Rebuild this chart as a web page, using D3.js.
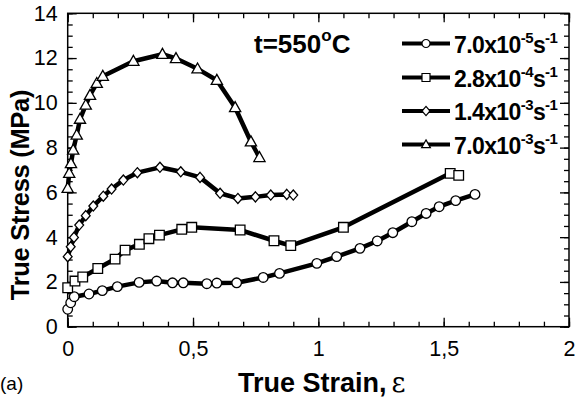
<!DOCTYPE html>
<html>
<head>
<meta charset="utf-8">
<script src="https://cdn.jsdelivr.net/npm/d3@7"></script>
<style>
  body { margin: 0; background: #fff; }
  svg { display: block; font-family: "Liberation Sans", Arial, sans-serif; }
</style>
</head>
<body>
<svg id="chart" width="575" height="402"></svg>
<script>
// strain / stress readings for each strain rate
const strain1 = [0, 0.012, 0.026, 0.085, 0.138, 0.198, 0.285, 0.355, 0.418, 0.461, 0.555, 0.595, 0.674, 0.78, 0.845, 0.994, 1.073, 1.166, 1.235, 1.297, 1.373, 1.43, 1.482, 1.548, 1.625];
const stress1 = [0.78, 1.07, 1.34, 1.46, 1.61, 1.79, 1.98, 2.04, 1.96, 1.96, 1.92, 1.95, 1.96, 2.2, 2.38, 2.83, 3.13, 3.5, 3.83, 4.2, 4.69, 5.06, 5.36, 5.63, 5.91];

const strain2 = [0, 0.029, 0.06, 0.12, 0.189, 0.229, 0.286, 0.324, 0.366, 0.455, 0.495, 0.688, 0.823, 0.89, 1.1, 1.526, 1.56];
const stress2 = [1.74, 2.04, 2.22, 2.6, 3.02, 3.42, 3.68, 3.93, 4.09, 4.35, 4.44, 4.32, 3.84, 3.62, 4.44, 6.85, 6.76];

const strain3 = [0, 0.012, 0.025, 0.046, 0.072, 0.102, 0.142, 0.175, 0.222, 0.278, 0.368, 0.451, 0.528, 0.608, 0.679, 0.749, 0.81, 0.874, 0.9];
const stress3 = [3.13, 3.57, 3.99, 4.54, 4.96, 5.39, 5.83, 6.15, 6.55, 6.88, 7.12, 6.92, 6.67, 5.96, 5.73, 5.8, 5.88, 5.91, 5.88];

const strain4 = [0, 0.006, 0.013, 0.022, 0.036, 0.049, 0.072, 0.089, 0.116, 0.14, 0.262, 0.378, 0.432, 0.518, 0.595, 0.668, 0.731, 0.765];
const stress4 = [6.18, 6.85, 7.29, 7.89, 8.56, 9.27, 9.9, 10.34, 10.87, 11.19, 11.86, 12.17, 11.98, 11.52, 11.01, 9.79, 8.26, 7.56];

const rateMant = ["7.0", "2.8", "1.4", "7.0"];
const rateExp = ["-5", "-4", "-3", "-3"];
const markers = ["circle", "square", "diamond", "triangle"];

const xTicks = [0, 0.5, 1, 1.5, 2];
const xTickLabels = ["0", "0,5", "1", "1,5", "2"];
const yTicks = [0, 2, 4, 6, 8, 10, 12, 14];

const series = [
  strain1.map((x, i) => ({ x, y: stress1[i] })),
  strain2.map((x, i) => ({ x, y: stress2[i] })),
  strain3.map((x, i) => ({ x, y: stress3[i] })),
  strain4.map((x, i) => ({ x, y: stress4[i] }))
];

const svg = d3.select("#chart");
const pLeft = 67.7, pRight = 569, pTop = 13.3, pBottom = 326.7;

const x = d3.scaleLinear().domain([0, 2]).range([pLeft, pRight]);
const y = d3.scaleLinear().domain([0, 14]).range([pBottom, pTop]);

// marker shape paths
function markerPath(type, s) {
  if (type === "circle") return d3.symbol(d3.symbolCircle, Math.PI * s * s)();
  if (type === "square") return `M${-s},${-s}H${s}V${s}H${-s}Z`;
  if (type === "diamond") return `M0,${-s * 1.15}L${s * 1.0},0L0,${s * 1.15}L${-s * 1.0},0Z`;
  return `M0,${-s * 1.15}L${s * 1.1},${s * 0.8}L${-s * 1.1},${s * 0.8}Z`;
}
const markerSize = [4.8, 4.8, 4.4, 5.1];

// axes: ticks inward on all four sides
const xMinor = d3.range(0, 2.0001, 0.1);
const yMinor = d3.range(0, 14.0001, 0.5);
const tickFont = "Liberation Sans, Arial, sans-serif";

svg.append("g").attr("transform", `translate(0,${pBottom})`)
  .call(d3.axisBottom(x).tickValues(xMinor).tickSize(-5).tickFormat(""));
svg.append("g").attr("transform", `translate(0,${pBottom})`)
  .call(d3.axisBottom(x).tickValues(xTicks).tickSize(-9).tickPadding(14).tickFormat((d, i) => xTickLabels[i]))
  .call(g => g.selectAll("text").attr("font-size", 21.5).attr("fill", "#000").attr("font-family", tickFont));
svg.append("g").attr("transform", `translate(0,${pTop})`)
  .call(d3.axisTop(x).tickValues(xMinor).tickSize(-5).tickFormat(""));
svg.append("g").attr("transform", `translate(0,${pTop})`)
  .call(d3.axisTop(x).tickValues(xTicks).tickSize(-9).tickFormat(""));

svg.append("g").attr("transform", `translate(${pLeft},0)`)
  .call(d3.axisLeft(y).tickValues(yMinor).tickSize(-5).tickFormat(""));
svg.append("g").attr("transform", `translate(${pLeft},0)`)
  .call(d3.axisLeft(y).tickValues(yTicks).tickSize(-9).tickPadding(10))
  .call(g => g.selectAll("text").attr("font-size", 21.5).attr("fill", "#000").attr("font-family", tickFont));
svg.append("g").attr("transform", `translate(${pRight},0)`)
  .call(d3.axisRight(y).tickValues(yMinor).tickSize(-5).tickFormat(""));
svg.append("g").attr("transform", `translate(${pRight},0)`)
  .call(d3.axisRight(y).tickValues(yTicks).tickSize(-9).tickFormat(""));

svg.selectAll(".domain").remove();
svg.selectAll(".tick line").attr("stroke", "#000").attr("stroke-width", 1.3);

svg.append("rect")
  .attr("x", pLeft).attr("y", pTop)
  .attr("width", pRight - pLeft).attr("height", pBottom - pTop)
  .attr("fill", "none").attr("stroke", "#000").attr("stroke-width", 1.5);

// data lines and markers
const line = d3.line().x(d => x(d.x)).y(d => y(d.y));
series.forEach((data, k) => {
  svg.append("path").datum(data)
    .attr("d", line)
    .attr("fill", "none").attr("stroke", "#000")
    .attr("stroke-width", 4.5).attr("stroke-linejoin", "round");
  svg.append("g").selectAll("path").data(data).join("path")
    .attr("transform", d => `translate(${x(d.x)},${y(d.y)})`)
    .attr("d", markerPath(markers[k], markerSize[k]))
    .attr("fill", "#fff").attr("stroke", "#000").attr("stroke-width", 1.3);
});

// legend
const legY = [43.5, 77.5, 111, 144.5];
const leg = svg.append("g");
rateMant.forEach((m, i) => {
  const g = leg.append("g").attr("transform", `translate(0,${legY[i]})`);
  g.append("line").attr("x1", 402).attr("x2", 450).attr("y1", 0).attr("y2", 0)
    .attr("stroke", "#000").attr("stroke-width", 3.8);
  g.append("path").attr("transform", "translate(426,0)")
    .attr("d", markerPath(markers[i], 4))
    .attr("fill", "#fff").attr("stroke", "#000").attr("stroke-width", 1.2);
  const t = g.append("text").attr("x", 454).attr("y", 9)
    .attr("font-size", 23).attr("font-weight", "bold").attr("letter-spacing", -0.6);
  t.append("tspan").text(m + "x10");
  t.append("tspan").attr("font-size", 15).attr("dy", -10).text(rateExp[i]);
  t.append("tspan").attr("dy", 10).text("s");
  t.append("tspan").attr("font-size", 15).attr("dy", -10).text("-1");
});

// annotation
const ann = svg.append("text").attr("x", 254).attr("y", 53)
  .attr("font-size", 26).attr("font-weight", "bold");
ann.append("tspan").text("t=550");
ann.append("tspan").attr("font-size", 17).attr("dy", -12).text("o");
ann.append("tspan").attr("dy", 12).text("C");

// axis titles
svg.append("text")
  .attr("transform", "translate(29,195) rotate(-90)")
  .attr("text-anchor", "middle")
  .attr("font-size", 25.5).attr("font-weight", "bold").attr("letter-spacing", -0.3)
  .text("True Stress (MPa)");

const xt = svg.append("text").attr("x", 238).attr("y", 392)
  .attr("font-size", 27).attr("font-weight", "bold");
xt.append("tspan").text("True Strain,");
xt.append("tspan").attr("font-weight", "normal").attr("font-family", "DejaVu Serif, serif").attr("dx", 5).text("ε");

svg.append("text").attr("x", 0).attr("y", 390)
  .attr("font-size", 19).text("(a)");
</script>
</body>
</html>
